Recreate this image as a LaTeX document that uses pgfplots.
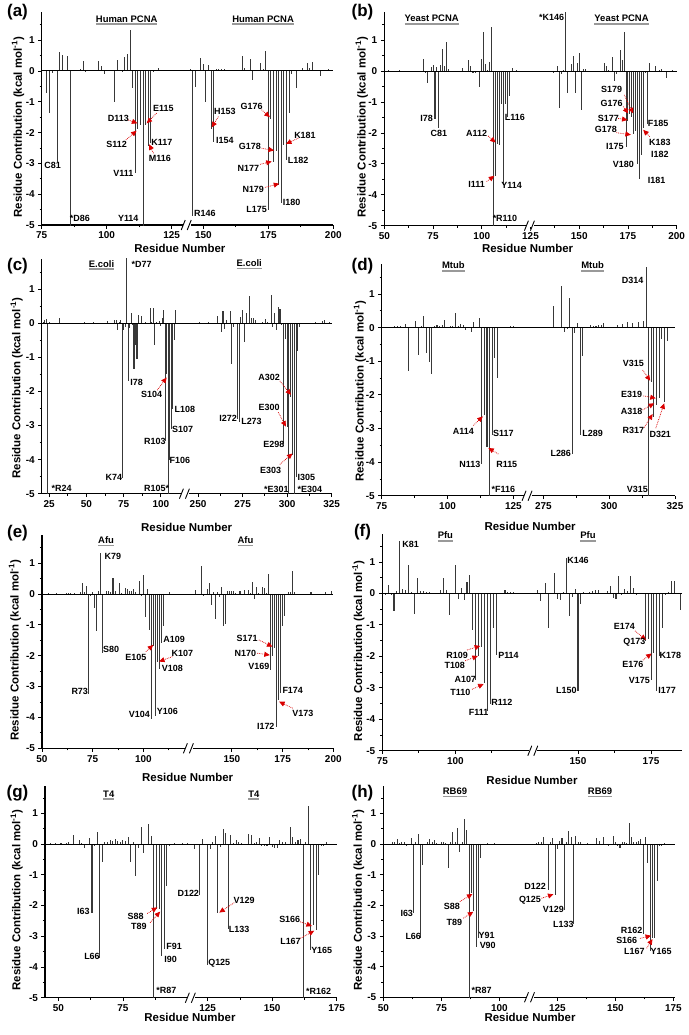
\documentclass[border=0pt]{standalone}
\usepackage{fontspec}
\setmainfont{Liberation Sans}
\usepackage{pgfplots}
\pgfplotsset{compat=1.18}
\usetikzlibrary{arrows.meta}

\newcommand\Lb[3]{\node[lbl] at (axis cs:#1,#2) {#3};}
\newcommand\Ar[4]{\draw[arr] (axis cs:#1,#2) -- (axis cs:#3,#4);}
\newcommand\ul[1]{\setbox0\hbox{#1}\vtop{\offinterlineskip\copy0\kern1.2pt\hbox{\color{black!40}\rule{\wd0}{1.5pt}}}}
\newcommand\Tt[3]{\node[ttl] at (axis cs:#1,#2) {\ul{#3}};}
\newcommand\Brk[1]{%
  \draw[white, line width=3pt] (axis cs:#1,-5) ++(-4bp,0bp) -- ++(8bp,0bp);
  \draw[line width=0.9pt] (axis cs:#1,-5) ++(-5.5bp,-5bp) -- ++(4bp,10bp);
  \draw[line width=0.9pt] (axis cs:#1,-5) ++(0.5bp,-5bp) -- ++(4bp,10bp);}
\newcommand\Zero{\draw[line width=0.9pt] (rel axis cs:0,0.724638) -- (rel axis cs:1,0.724638);}

\tikzset{
  lbl/.style={font=\fontsize{9}{10}\selectfont\bfseries, inner sep=0pt},
  ttl/.style={font=\fontsize{9.5}{11}\selectfont\bfseries, inner sep=0pt},
  arr/.style={red!85!black, densely dotted, line width=0.75pt, -{Triangle[length=5.5bp,width=5bp]}},
}
\pgfplotsset{
  panel/.style={
    scale only axis, clip mode=individual, anchor=south west,
    axis x line*=bottom, axis y line*=left,
    axis line style={-, line width=1.1pt},
    ymin=-5, ymax=1.9,
    ytick={-5,-4,-3,-2,-1,0,1}, yticklabels={-5,-4,-3,-2,-1,0,1},
    minor ytick={-4.5,-3.5,-2.5,-1.5,-0.5,0.5,1.5},
    tick align=outside, major tick length=3.5bp, minor tick length=2bp,
    tick style={black, line width=0.8pt},
    ticklabel style={font=\fontsize{10}{12}\selectfont\bfseries},
    ylabel={Residue Contribution (kcal mol\textsuperscript{-1})},
    xlabel={Residue Number},
    label style={font=\fontsize{11.5}{13}\selectfont\bfseries},
  },
  bar/.style={ycomb, draw=black!78, line width=1.05pt},
}

\begin{document}
\begin{tikzpicture}

% ---------------- (a) Human PCNA
\begin{axis}[panel, at={(41.7bp,-225bp)}, width=291.6bp, height=212.6bp,
  x coord trafo/.code={\pgfmathparse{#1>135 ? #1-12.8 : #1}},
  xmin=75, xmax=200, xtick={75,100,125,150,175,200}, xticklabels={75,100,125,150,175,200},
  minor xtick={87.5,112.5,162.5,187.5},
  ylabel style={at={(axis description cs:-0.081,0.46)}, anchor=center},
  xlabel style={at={(axis description cs:0.474,-0.108)}, anchor=center}]
\addplot[bar] coordinates {
 (77,-0.70) (78,-1.37) (79,-0.08) (81,-2.94) (82,0.63) (83,0.52) (85,0.49) (86,-5.2)
 (88,0.03) (89,0.03) (90,0.05) (91,0.32) (92,-0.02) (93,0.03) (94,0.03) (95,0.03) (96,0.04)
 (97,0.32) (98,0.17) (99,-0.10) (100,0.04) (101,0.03) (103,-1.00) (104,0.36) (105,0.02)
 (106,-0.05) (107,0.45) (108,0.54) (109,1.34) (110,-0.55) (111,-3.30) (112,-1.90) (113,-1.75)
 (114,-5.2) (115,-1.75) (116,-2.45) (117,-2.35) (118,-0.05) (120,0.08) (121,0.03) (122,0.02) (123,0.03)
 (145,0.05) (146,-4.70) (147,-0.53) (149,0.43) (150,0.22) (151,-1.00) (152,0.18) (153,-1.90)
 (154,-2.30) (155,0.07) (156,0.05) (157,0.07) (158,0.05) (161,0.02) (165,0.50) (166,0.08)
 (168,0.40) (169,-0.28) (172,0.25) (173,0.05) (174,0.64) (175,-4.50) (176,-1.55) (177,-2.95)
 (178,-2.60) (179,-3.70) (180,-4.30) (181,-2.40) (182,-2.90) (183,-1.35) (184,-0.10) (186,-0.55)
 (188,0.08) (190,0.25) (191,0.10) (192,0.28) (195,-0.18) (198,0.05)};
\Zero \Brk{130.8}
\Tt{107.7}{1.65}{Human PCNA} \Tt{173}{1.65}{Human PCNA}
\Lb{79.2}{-3.08}{C81} \Lb{89.7}{-4.78}{*D86} \Lb{106.4}{-3.32}{V111} \Lb{108.3}{-4.78}{Y114}
\Lb{104.5}{-1.54}{D113} \Ar{108.3}{-1.59}{111.8}{-1.70}
\Lb{103.8}{-2.37}{S112} \Ar{107.4}{-2.24}{111.5}{-1.94}
\Lb{121.8}{-1.21}{E115} \Ar{119.2}{-1.37}{115.4}{-1.70}
\Lb{121.2}{-2.32}{K117}
\Lb{120.5}{-2.85}{M116} \Ar{118}{-2.67}{116.3}{-2.38}
\Lb{150.6}{-4.62}{R146}
\Lb{158.3}{-1.32}{H153} \Ar{155.8}{-1.48}{153.2}{-1.83}
\Lb{158.3}{-2.27}{I154}
\Lb{168.6}{-1.14}{G176} \Ar{172.4}{-1.26}{175.6}{-1.50}
\Lb{167.9}{-2.45}{G178} \Ar{172.4}{-2.51}{177.2}{-2.58}
\Lb{167.3}{-3.16}{N177} \Ar{171.8}{-3.03}{176.3}{-2.94}
\Lb{169.2}{-3.86}{N179} \Ar{173.7}{-3.78}{179.2}{-3.66}
\Lb{170.5}{-4.50}{L175} \Lb{184}{-4.27}{I180}
\Lb{189.1}{-2.08}{K181} \Ar{186.5}{-2.18}{181.8}{-2.37}
\Lb{186.5}{-2.89}{L182}
\end{axis}

% ---------------- (b) Yeast PCNA
\begin{axis}[panel, at={(384.3bp,-225.7bp)}, width=292.4bp, height=213.4bp,
  xmin=50, xmax=200, xtick={50,75,100,125,150,175,200}, xticklabels={50,75,100,125,150,175,200},
  minor xtick={62.5,87.5,112.5,137.5,162.5,187.5},
  ylabel style={at={(axis description cs:-0.077,0.46)}, anchor=center},
  xlabel style={at={(axis description cs:0.49,-0.105)}, anchor=center}]
\addplot[bar] coordinates {
 (52,0.02) (58,0.05) (70,0.38) (71,-0.05) (72,-0.40) (74,0.13) (75,0.20) (76,-1.55) (77,0.12)
 (78,-1.85) (79,0.20) (80,0.70) (81,0.15) (82,0.95) (83,0.07) (90,0.10) (93,0.37) (94,0.18)
 (95,-0.05) (96,-0.07) (97,-0.07) (99,-0.50) (100,0.38) (101,1.25) (102,0.22) (103,0.05)
 (104,0.30) (105,1.42) (106,-5.2) (107,-3.40) (108,-2.35) (109,-2.40) (110,-1.05) (111,-3.70)
 (112,-1.05) (113,-1.50) (114,-0.80) (116,0.10) (118,0.03) (137,-0.05) (139,0.15) (140,-1.18)
 (141,-0.10) (142,0.05) (143,1.95) (144,-0.72) (146,0.22) (147,0.48) (148,-0.70) (149,0.25)
 (150,0.57) (151,-1.27) (152,0.08) (153,0.08) (163,0.25) (164,0.15) (165,0.05) (167,0.45)
 (168,-0.33) (169,-0.10) (171,0.67) (172,0.35) (173,1.25) (174,-2.45) (175,-1.60) (176,-1.40)
 (177,-1.50) (178,-2.05) (179,-1.95) (180,-3.00) (181,-3.50) (182,-2.70) (183,-1.85) (184,-0.05)
 (185,-1.70) (186,0.25) (189,0.18) (191,0.05) (192,0.07) (195,-0.22) (198,0.02)};
\Zero \Brk{124.7}
\Tt{74.3}{1.65}{Yeast PCNA} \Tt{171.7}{1.65}{Yeast PCNA}
\Lb{135.8}{1.75}{*K146} \Lb{71.7}{-1.53}{I78} \Lb{78}{-2.01}{C81} \Lb{117}{-1.49}{L116}
\Lb{97.4}{-2.01}{A112} \Ar{103.3}{-2.10}{107.1}{-2.31}
\Lb{97.4}{-3.68}{I111} \Ar{102.5}{-3.57}{106.4}{-3.39}
\Lb{115.3}{-3.71}{Y114} \Lb{111.9}{-4.75}{*R110}
\Lb{166.6}{-0.59}{S179} \Ar{173.1}{-0.77}{177.7}{-1.37}
\Lb{166.6}{-1.04}{G176} \Ar{172.6}{-1.15}{175.1}{-1.37}
\Lb{164.9}{-1.53}{S177} \Ar{170}{-1.53}{174.8}{-1.58}
\Lb{163.7}{-1.88}{G178} \Ar{169.1}{-1.99}{176.5}{-2.06}
\Lb{168.3}{-2.44}{I175} \Lb{172.6}{-3.03}{V180} \Lb{191.4}{-2.71}{I182} \Lb{189.7}{-3.52}{I181}
\Lb{190.5}{-1.69}{F185}
\Lb{191.4}{-2.31}{K183} \Ar{186.2}{-2.12}{182.8}{-1.90}
\end{axis}

% ---------------- (c) E.coli
\begin{axis}[panel, at={(41.7bp,-493.7bp)}, width=290bp, height=235.1bp,
  x coord trafo/.code={\pgfmathparse{#1>200 ? 1.197*#1-174.25 : #1}},
  xmin=20, xmax=325, xtick={25,50,75,100,250,275,300,325}, xticklabels={25,50,75,100,250,275,300,325},
  minor xtick={37.5,62.5,87.5,262.5,287.5,312.5},
  ylabel style={at={(axis description cs:-0.086,0.45)}, anchor=center},
  xlabel style={at={(axis description cs:0.5,-0.142)}, anchor=center}]
\addplot[bar] coordinates {
 (21,0.05) (22,0.10) (23,0.12) (24,-5.2) (25,0.03) (32,0.17) (35,0.02) (40,0.02) (49,0.04)
 (55,0.03) (64,0.07) (69,0.10) (70,0.10) (71,-0.20) (72,0.05) (73,0.10) (74,-4.55) (75,-0.20)
 (76,-0.10) (77,2.20) (78,-1.70) (79,-0.15) (80,0.30) (81,-0.05) (82,-1.35) (83,-0.65) (84,-1.05)
 (85,0.25) (87,0.22) (90,0.05) (93,0.45) (94,0.05) (95,0.45) (96,-0.65) (97,0.05) (99,0.08)
 (100,-0.07) (101,0.15) (102,0.38) (103,-3.45) (104,-1.50) (105,-5.2) (106,-4.00) (107,-3.10)
 (108,-2.50) (109,-0.50) (110,0.38)
 (251,0.03) (256,0.03) (261,0.22) (263,-0.25) (264,0.35) (265,-0.18) (266,0.10) (268,0.35)
 (269,-1.20) (270,-0.10) (272,-2.80) (273,-2.90) (274,0.20) (275,0.40) (276,-0.55) (277,0.30)
 (279,0.80) (280,0.15) (281,0.15) (282,0.10) (286,0.05) (288,0.12) (289,0.05) (291,0.82)
 (292,-0.10) (293,0.30) (294,-0.20) (295,0.48) (296,0.42) (297,-0.05) (298,-3.55) (299,-0.45)
 (300,-3.05) (301,-5.2) (302,-2.15) (303,-3.85) (304,-5.2) (305,-4.50) (306,-0.80) (307,-0.10)
 (316,0.03) (320,0.08) (321,0.10) (324,0.05)};
\Zero \Brk{116.2}
\Tt{60.2}{1.71}{E.coli} \Tt{278.7}{1.73}{E.coli}
\Lb{87.1}{1.73}{*D77} \Lb{83.7}{-1.73}{I78}
\Lb{93.8}{-2.10}{S104} \Ar{97.6}{-1.96}{103.9}{-1.59}
\Lb{116.2}{-2.52}{L108} \Lb{114.6}{-3.10}{S107} \Lb{96}{-3.47}{R103} \Lb{112.8}{-4.01}{F106}
\Lb{68.5}{-4.53}{K74} \Lb{33.4}{-4.84}{*R24} \Lb{97.2}{-4.84}{R105*}
\Lb{266.9}{-2.79}{I272} \Lb{280}{-2.89}{L273}
\Lb{289.9}{-1.60}{A302} \Ar{295.9}{-1.69}{302.1}{-2.10}
\Lb{289.9}{-2.48}{E300} \Ar{295}{-2.61}{299.3}{-3.03}
\Lb{292.5}{-3.55}{E298}
\Lb{290.7}{-4.31}{E303} \Ar{295.9}{-4.14}{303}{-3.82}
\Lb{310.8}{-4.53}{I305} \Lb{294}{-4.86}{*E301} \Lb{312.7}{-4.86}{*E304}
\end{axis}

% ---------------- (d) Mtub
\begin{axis}[panel, at={(381.7bp,-495.7bp)}, width=293.3bp, height=231.9bp,
  x coord trafo/.code={\pgfmathparse{#1>200 ? #1-138.6 : #1}},
  xmin=75, xmax=325, xtick={75,100,125,275,300,325}, xticklabels={75,100,125,275,300,325},
  minor xtick={87.5,112.5,287.5,312.5},
  ylabel style={at={(axis description cs:-0.074,0.45)}, anchor=center},
  xlabel style={at={(axis description cs:0.506,-0.134)}, anchor=center}]
\addplot[bar] coordinates {
 (78,0.03) (79,0.03) (80,0.05) (81,0.05) (82,0.04) (84,0.10) (85,-1.28) (86,0.03) (88,0.20)
 (89,-0.82) (90,0.05) (91,0.35) (92,-0.75) (93,-1.02) (94,-1.38) (95,0.05) (96,0.08) (97,0.05)
 (98,0.08) (99,0.22) (100,0.03) (101,0.06) (102,0.05) (103,0.45) (104,0.05) (105,0.12) (106,0.08)
 (107,-0.08) (108,0.03) (109,-0.13) (110,0.18) (112,0.28) (113,-4.05) (114,-2.60) (115,-3.55)
 (116,-5.2) (117,-3.20) (118,-0.90) (119,-1.50) (120,0.02) (124,0.05) (125,0.05)
 (279,0.65) (282,1.25) (283,-0.12) (284,-0.05) (285,0.88) (286,-3.75) (287,-0.15) (288,0.15)
 (289,-3.20) (290,-0.85) (291,0.03) (293,0.08) (294,0.05) (295,0.05) (296,0.08) (297,0.08)
 (298,0.15) (300,0.03) (303,0.08) (305,0.12) (307,0.18) (309,0.15) (311,0.18) (313,0.20)
 (314,1.80) (315,-5.2) (316,-1.62) (317,-2.65) (318,-2.30) (319,-2.10) (320,-0.35) (321,-2.22) (322,-0.40)};
\Zero \Brk{130.4}
\Tt{102.2}{1.81}{Mtub} \Tt{293.7}{1.81}{Mtub}
\Lb{308.9}{1.42}{D314}
\Lb{309.2}{-1.06}{V315} \Ar{312.7}{-1.26}{315.6}{-1.58}
\Lb{308.5}{-2.00}{E319} \Ar{313}{-2.03}{317.7}{-2.10}
\Lb{308.5}{-2.48}{A318} \Ar{312.7}{-2.45}{317.1}{-2.25}
\Lb{309.2}{-3.06}{R317} \Ar{313.3}{-2.97}{316.5}{-2.57}
\Lb{319.4}{-3.19}{D321} \Ar{317.7}{-2.99}{320.9}{-2.25}
\Lb{310.7}{-4.80}{V315} \Lb{293.7}{-3.14}{L289} \Lb{281.6}{-3.73}{L286}
\Lb{106}{-3.09}{A114} \Ar{109.8}{-2.91}{113.4}{-2.64}
\Lb{121.2}{-3.14}{S117} \Lb{108.5}{-4.06}{N113}
\Lb{122.5}{-4.08}{R115} \Ar{119.3}{-3.76}{115.5}{-3.58}
\Lb{121.2}{-4.82}{*F116}
\end{axis}

% ---------------- (e) Afu
\begin{axis}[panel, at={(42bp,-748.3bp)}, width=291.3bp, height=213bp,
  x coord trafo/.code={\pgfmathparse{#1>126 ? #1-6.4 : #1}},
  xmin=50, xmax=200, xtick={50,75,100,150,175,200}, xticklabels={50,75,100,150,175,200},
  minor xtick={62.5,87.5,112.5,162.5,187.5},
  ylabel style={at={(axis description cs:-0.093,0.46)}, anchor=center},
  xlabel style={at={(axis description cs:0.5,-0.135)}, anchor=center}]
\addplot[bar] coordinates {
 (53,0.02) (57,0.03) (62,0.03) (63,0.03) (64,0.02) (66,0.04) (69,0.05) (70,0.35) (71,0.05)
 (72,0.25) (73,-3.25) (74,-0.05) (75,0.05) (76,-0.45) (77,-1.20) (78,0.08) (79,1.32) (80,-1.90)
 (82,0.08) (83,0.08) (84,0.05) (85,0.52) (86,0.08) (88,0.35) (89,0.03) (91,0.20) (92,0.15)
 (93,0.10) (94,0.08) (95,0.15) (96,0.05) (98,0.42) (99,-0.05) (100,0.60) (101,-0.75) (102,0.15)
 (103,-1.18) (104,-4.05) (105,-1.68) (106,-3.95) (107,-2.20) (108,-2.42) (109,-1.58) (110,-1.05) (113,0.05)
 (132,0.12) (135,0.90) (136,-0.07) (138,0.15) (139,0.35) (140,-0.35) (141,0.05) (142,-0.82)
 (143,0.05) (144,-0.10) (145,0.22) (146,-1.03) (147,-0.98) (148,0.08) (149,0.08) (150,0.10)
 (151,0.08) (152,0.03) (154,0.10) (156,0.12) (158,0.12) (159,0.03) (160,0.38) (161,-0.15)
 (162,0.22) (163,0.02) (165,0.22) (166,0.18) (167,0.03) (168,0.65) (169,-2.45) (170,-2.00)
 (171,-1.75) (172,-4.30) (173,-3.45) (174,-3.20) (175,-1.05) (176,-0.72) (178,0.05) (179,0.05)
 (180,0.75) (181,0.05) (189,0.05) (196,0.05) (199,0.10)};
\Zero \Brk{122.4}
\Tt{81.6}{1.70}{Afu} \Tt{156.7}{1.70}{Afu}
\Lb{84.9}{1.21}{K79} \Lb{84.1}{-1.81}{S80} \Lb{68.6}{-3.16}{R73} \Lb{115.1}{-1.47}{A109}
\Lb{119.2}{-1.94}{K107} \Ar{114.3}{-2.03}{107.7}{-2.19}
\Lb{96.3}{-2.05}{E105} \Ar{101.2}{-1.87}{104.8}{-1.65}
\Lb{114.3}{-2.41}{V108} \Lb{98}{-3.89}{V104} \Lb{111.8}{-3.81}{Y106}
\Lb{157.5}{-1.44}{S171} \Ar{163.3}{-1.49}{170}{-1.71}
\Lb{156.7}{-1.92}{N170} \Ar{162.5}{-1.92}{168.7}{-1.98}
\Lb{163.3}{-2.35}{V169} \Lb{180}{-3.11}{F174}
\Lb{185}{-3.87}{V173} \Ar{180}{-3.70}{173.3}{-3.49}
\Lb{166.7}{-4.28}{I172}
\end{axis}

% ---------------- (f) Pfu
\begin{axis}[panel, at={(382.3bp,-750.7bp)}, width=299.4bp, height=217.1bp,
  x coord trafo/.code={\pgfmathparse{#1>130 ? #1-8 : #1}},
  xmin=75, xmax=185.5, xtick={75,100,150,175}, xticklabels={75,100,150,175},
  minor xtick={87.5,112.5,162.5},
  ylabel style={at={(axis description cs:-0.080,0.46)}, anchor=center},
  xlabel style={at={(axis description cs:0.5,-0.135)}, anchor=center}]
\addplot[bar] coordinates {
 (76,-0.05) (77,0.28) (78,-0.05) (79,-0.55) (80,0.08) (81,1.65) (82,0.15) (83,0.12) (84,0.90)
 (85,0.05) (86,-0.65) (87,0.48) (88,0.08) (89,0.08) (90,0.03) (91,0.03) (93,-0.03) (94,0.02)
 (95,0.10) (96,0.48) (97,0.12) (98,-0.70) (99,0.02) (100,0.90) (101,-0.18) (102,0.18) (103,-0.22)
 (104,0.35) (105,0.60) (106,-1.15) (107,-2.75) (108,-2.00) (109,-1.70) (110,-2.85) (111,-3.75)
 (112,-3.50) (113,-1.10) (114,-1.95) (115,0.02) (117,0.12) (118,0.05) (119,0.03) (120,0.03)
 (136,0.12) (137,-0.25) (139,0.32) (140,-1.10) (142,0.65) (143,-0.18) (144,-0.22) (145,0.05)
 (146,1.12) (147,-0.72) (148,-0.10) (149,0.15) (150,-3.10) (151,-0.35) (152,0.05) (154,0.05)
 (155,0.08) (156,0.10) (157,0.12) (160,0.08) (161,0.25) (162,-0.15) (163,-0.18) (164,0.55)
 (165,-0.05) (166,0.15) (167,0.08) (168,0.55) (169,0.18) (170,-0.05) (173,-1.50) (174,-1.45)
 (175,-2.75) (176,-1.90) (177,-3.10) (178,-2.00) (179,-1.10) (180,-0.05) (181,0.03) (182,0.40)
 (183,0.38) (185,-0.52)};
\Zero \Brk{126.7}
\Tt{96.6}{1.80}{Pfu} \Tt{153.4}{1.80}{Pfu}
\Lb{84.7}{1.57}{K81} \Lb{150}{1.06}{K146}
\Lb{100.6}{-1.96}{R109} \Ar{104}{-1.80}{108.5}{-1.67}
\Lb{99.8}{-2.28}{T108} \Ar{103.4}{-2.14}{107.7}{-1.99}
\Lb{103.4}{-2.72}{A107}
\Lb{101.7}{-3.16}{T110} \Ar{105.7}{-3.05}{109.7}{-2.88}
\Lb{108}{-3.78}{F111} \Lb{115.9}{-3.47}{R112} \Lb{118.2}{-1.98}{P114} \Lb{146}{-3.07}{L150}
\Lb{165.9}{-1.06}{E174} \Ar{169.5}{-1.19}{173.3}{-1.48}
\Lb{169.3}{-1.56}{Q173}
\Lb{168.75}{-2.25}{E176} \Ar{172.2}{-2.12}{175.2}{-1.91}
\Lb{181.6}{-1.98}{K178} \Lb{171}{-2.78}{V175} \Lb{180.5}{-3.09}{I177}
\end{axis}

% ---------------- (g) T4
\begin{axis}[panel, at={(45bp,-997.7bp)}, width=291.7bp, height=212.1bp,
  x coord trafo/.code={\pgfmathparse{#1>110 ? #1-17.2 : #1}},
  xmin=44.8, xmax=175, xtick={50,75,125,150,175}, xticklabels={50,75,125,150,175},
  minor xtick={62.5,87.5,137.5,162.5},
  ylabel style={at={(axis description cs:-0.097,0.46)}, anchor=center},
  xlabel style={at={(axis description cs:0.497,-0.092)}, anchor=center}]
\addplot[bar] coordinates {
 (47,0.02) (49,0.02) (51,0.02) (53,0.02) (54,0.08) (56,0.28) (58,0.12) (59,0.03) (60,-0.12)
 (62,0.20) (63,-2.25) (64,-0.05) (65,0.38) (66,-3.70) (67,-0.58) (68,0.05) (69,0.08) (70,0.12)
 (71,0.10) (72,0.17) (73,0.10) (74,0.05) (75,0.12) (76,0.10) (77,0.22) (78,-0.58) (79,0.05)
 (80,-1.05) (81,-0.12) (82,0.57) (83,-0.28) (85,0.65) (86,0.25) (87,-5.2) (88,-2.12) (89,-2.10)
 (90,-3.65) (91,-3.40) (92,-1.35) (93,-0.05) (95,0.03) (98,0.03) (100,0.03)
 (120,-0.15) (122,-1.65) (123,0.15) (125,-3.95) (126,-0.15) (127,0.05) (128,0.25) (129,-2.25)
 (130,-0.10) (131,0.48) (132,0.35) (133,-2.75) (134,0.30) (135,0.03) (136,0.12) (137,0.07)
 (138,0.03) (141,0.32) (142,0.28) (143,0.02) (144,0.05) (145,0.20) (146,-0.05) (147,-0.05)
 (148,-0.08) (149,0.22) (150,-0.10) (151,-0.12) (152,-0.12) (153,0.12) (154,0.05) (155,0.05)
 (157,0.55) (158,0.22) (159,0.05) (160,0.12) (161,0.15) (162,-5.2) (163,0.05) (164,1.25)
 (165,-3.45) (166,-2.65) (167,-2.80) (168,-1.00) (169,-0.08) (170,-0.05) (171,0.05)};
\Zero \Brk{101.3}
\Tt{69.5}{1.59}{T4} \Tt{142.9}{1.59}{T4}
\Lb{59.7}{-2.20}{I63} \Lb{63}{-3.67}{L66}
\Lb{79.9}{-2.36}{S88} \Ar{84.4}{-2.26}{88.3}{-2.06}
\Lb{81.2}{-2.69}{T89} \Ar{85.5}{-2.56}{89.4}{-2.20}
\Lb{94.8}{-3.34}{F91} \Lb{93.5}{-3.74}{I90} \Lb{91.8}{-4.77}{*R87}
\Lb{100.3}{-1.61}{D122}
\Lb{139.1}{-1.82}{V129} \Ar{135.3}{-1.91}{129.5}{-2.23}
\Lb{137.2}{-2.77}{L133} \Lb{129.5}{-3.88}{Q125}
\Lb{156.8}{-2.44}{S166} \Ar{160.9}{-2.53}{165.4}{-2.67}
\Lb{157.1}{-3.18}{L167} \Ar{160.9}{-3.07}{166.3}{-2.82}
\Lb{169.2}{-3.47}{Y165} \Lb{168}{-4.80}{*R162}
\end{axis}

% ---------------- (h) RB69
\begin{axis}[panel, at={(383.3bp,-997.3bp)}, width=291.7bp, height=211.6bp,
  xmin=50, xmax=175.7, xtick={50,75,100,125,150,175}, xticklabels={50,75,100,125,150,175},
  minor xtick={62.5,87.5,112.5,137.5,162.5},
  ylabel style={at={(axis description cs:-0.086,0.46)}, anchor=center},
  xlabel style={at={(axis description cs:0.503,-0.095)}, anchor=center}]
\addplot[bar] coordinates {
 (54,0.05) (55,0.08) (56,0.15) (57,0.03) (58,0.08) (59,0.08) (60,-0.05) (62,0.20) (63,-2.25)
 (64,0.05) (65,0.33) (66,-3.05) (67,-0.68) (69,0.05) (70,0.15) (71,0.08) (72,0.12) (73,0.03)
 (75,0.05) (76,0.05) (77,0.03) (78,-0.78) (79,0.08) (80,0.40) (81,0.05) (82,0.52) (83,-0.25)
 (84,0.05) (85,0.82) (86,0.45) (87,-5.2) (88,-1.60) (89,-2.20) (90,-3.35) (91,-3.05) (92,-0.45)
 (93,-0.02) (95,0.03) (98,0.03)
 (116,0.03) (117,0.05) (118,0.08) (119,0.23) (121,-1.50) (122,0.05) (123,0.18) (124,-1.65)
 (125,-0.15) (126,0.10) (127,0.20) (128,-2.15) (129,0.05) (130,0.43) (131,0.22) (132,-2.60)
 (133,0.27) (134,0.05) (135,0.05) (138,0.03) (142,0.20) (143,0.10) (145,0.22) (147,-0.05)
 (149,0.25) (150,0.05) (151,-0.08) (152,-0.12) (153,0.08) (154,0.05) (155,0.03) (156,0.68)
 (157,0.22) (158,0.05) (159,0.05) (160,0.10) (161,0.15) (162,-2.95) (163,0.22) (164,-0.62)
 (165,-3.50) (166,-3.05) (167,-3.05) (168,-1.22) (169,-0.08) (170,-0.05) (171,0.03)};
\Zero \Brk{113.2}
\Tt{80.9}{1.67}{RB69} \Tt{143.4}{1.67}{RB69}
\Lb{60.1}{-2.26}{I63} \Lb{62.9}{-3.02}{L66}
\Lb{79.5}{-2.04}{S88} \Ar{83}{-1.88}{88.4}{-1.63}
\Lb{80.6}{-2.55}{T89} \Ar{84.5}{-2.42}{88.8}{-2.21}
\Lb{94.5}{-2.97}{Y91} \Lb{95}{-3.32}{V90} \Lb{92.4}{-4.78}{*R87}
\Lb{115.4}{-1.39}{D122}
\Lb{113.2}{-1.83}{Q125} \Ar{118.2}{-1.77}{123.3}{-1.64}
\Lb{123.3}{-2.13}{V129} \Lb{127.6}{-2.61}{L133} \Lb{157}{-2.83}{R162}
\Lb{154.9}{-3.15}{S166} \Ar{160.6}{-3.08}{165.4}{-2.99}
\Lb{158.2}{-3.51}{L167} \Ar{163.5}{-3.40}{166}{-3.10}
\Lb{169.7}{-3.49}{Y165}
\end{axis}

\begin{scope}[every node/.style={font=\fontsize{17}{19}\selectfont\bfseries, inner sep=0pt}]
\node at (17.5bp,-11.7bp) {(a)};
\node at (362.5bp,-11.7bp) {(b)};
\node at (17.5bp,-266bp) {(c)};
\node at (362.5bp,-266bp) {(d)};
\node at (17.5bp,-533bp) {(e)};
\node at (362.5bp,-532bp) {(f)};
\node at (17.5bp,-793bp) {(g)};
\node at (362.5bp,-793bp) {(h)};
\end{scope}

\pgfresetboundingbox
\path[use as bounding box] (0,0) rectangle (689bp,-1035bp);
\end{tikzpicture}
\end{document}
